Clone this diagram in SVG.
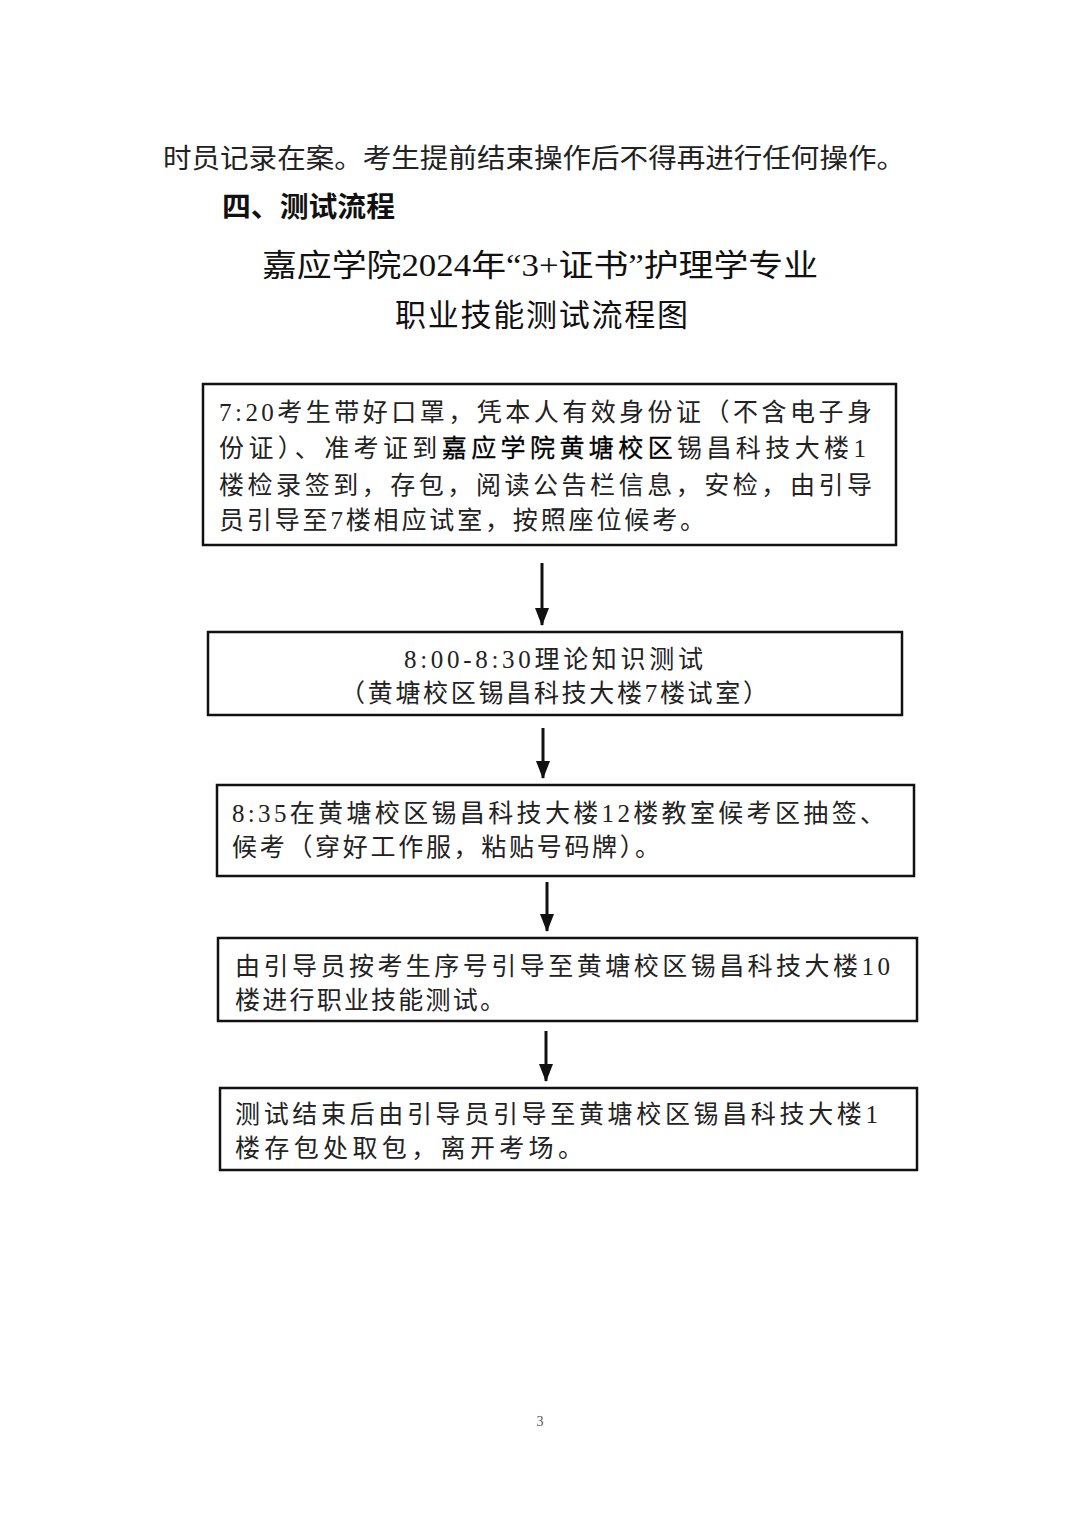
<svg xmlns="http://www.w3.org/2000/svg" width="1080" height="1527" viewBox="0 0 1080 1527">
<style>
.t{font-family:"Liberation Serif","Noto Sans CJK SC",serif;fill:#222;}
.body{font-size:27px;}
.h{font-family:"Noto Sans CJK SC",sans-serif;font-size:28px;font-weight:bold;fill:#111;}
.title{font-size:31px;fill:#111;}
.bx{font-size:25px;}
.box{fill:#fff;stroke:#111;stroke-width:2.5;}
.conn{stroke:#111;stroke-width:3;fill:none;}
.em{fill:#000;stroke:#000;stroke-width:0.3;}
</style>
<defs>
<marker id="ah" viewBox="0 0 18 14" refX="17" refY="7" markerWidth="18" markerHeight="14" orient="auto" markerUnits="userSpaceOnUse">
<path d="M0,0 L18,7 L0,14 Z" fill="#111"/>
</marker>
</defs>
<rect width="1080" height="1527" fill="#fff"/>
<text class="t body" x="163" y="168" textLength="742" lengthAdjust="spacingAndGlyphs">时员记录在案。考生提前结束操作后不得再进行任何操作。</text>
<text class="h" x="222" y="217" textLength="173" lengthAdjust="spacingAndGlyphs">四、测试流程</text>
<text class="t title" x="262" y="276" textLength="556" lengthAdjust="spacingAndGlyphs">嘉应学院2024年“3+证书”护理学专业</text>
<text class="t title" x="395" y="326" textLength="293" lengthAdjust="spacing">职业技能测试流程图</text>

<g id="connectors">
<line class="conn" x1="542" y1="563" x2="542" y2="625" marker-end="url(#ah)"/>
<line class="conn" x1="543" y1="728" x2="543" y2="778" marker-end="url(#ah)"/>
<line class="conn" x1="547" y1="882" x2="547" y2="931" marker-end="url(#ah)"/>
<line class="conn" x1="546" y1="1031" x2="546" y2="1081" marker-end="url(#ah)"/>
</g>

<g id="n1">
<rect class="box" x="203" y="384" width="693" height="161"/>
<text class="t bx" x="219" y="421" textLength="653" lengthAdjust="spacing">7:20考生带好口罩，凭本人有效身份证（不含电子身</text>
<text class="t bx" x="219" y="457" textLength="647" lengthAdjust="spacing">份证）、准考证到<tspan class="em">嘉应学院黄塘校区</tspan>锡昌科技大楼1</text>
<text class="t bx" x="219" y="494" textLength="653" lengthAdjust="spacing">楼检录签到，存包，阅读公告栏信息，安检，由引导</text>
<text class="t bx" x="219" y="529" textLength="486" lengthAdjust="spacing">员引导至7楼相应试室，按照座位候考。</text>
</g>

<g id="n2">
<rect class="box" x="208" y="632" width="694" height="83"/>
<text class="t bx" x="404" y="668" textLength="299" lengthAdjust="spacing">8:00-8:30理论知识测试</text>
<text class="t bx" x="340" y="702" textLength="428" lengthAdjust="spacing">（黄塘校区锡昌科技大楼7楼试室）</text>
</g>

<g id="n3">
<rect class="box" x="217" y="785" width="697" height="91"/>
<text class="t bx" x="232" y="822" textLength="653" lengthAdjust="spacing">8:35在黄塘校区锡昌科技大楼12楼教室候考区抽签、</text>
<text class="t bx" x="232" y="856" textLength="428" lengthAdjust="spacing">候考（穿好工作服，粘贴号码牌）。</text>
</g>

<g id="n4">
<rect class="box" x="218" y="938" width="699" height="83"/>
<text class="t bx" x="235" y="975" textLength="655" lengthAdjust="spacing">由引导员按考生序号引导至黄塘校区锡昌科技大楼10</text>
<text class="t bx" x="235" y="1009" textLength="270" lengthAdjust="spacing">楼进行职业技能测试。</text>
</g>

<g id="n5">
<rect class="box" x="220" y="1088" width="697" height="82"/>
<text class="t bx" x="235" y="1123" textLength="643" lengthAdjust="spacing">测试结束后由引导员引导至黄塘校区锡昌科技大楼1</text>
<text class="t bx" x="235" y="1157" textLength="348" lengthAdjust="spacing">楼存包处取包，离开考场。</text>
</g>

<text x="540" y="1426" text-anchor="middle" font-family="Liberation Serif, serif" font-size="14" fill="#555">3</text>
</svg>
